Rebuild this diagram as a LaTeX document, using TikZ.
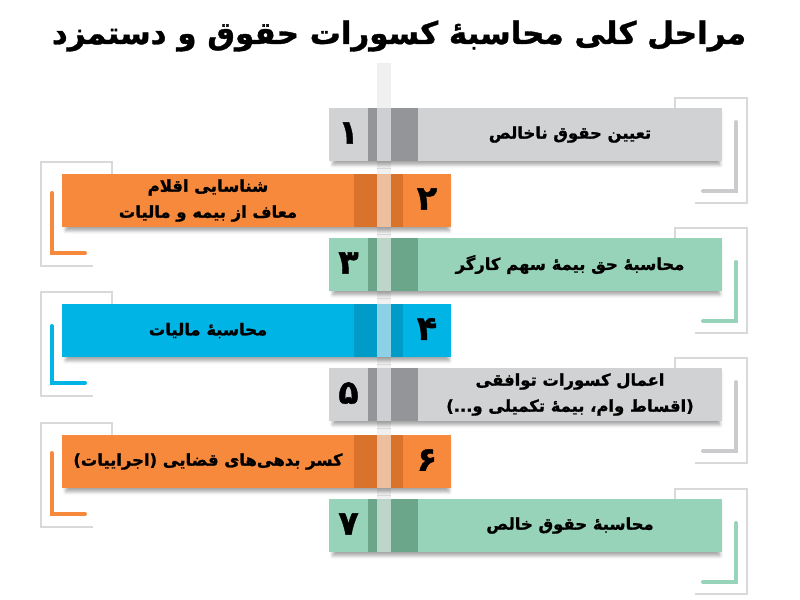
\documentclass[tikz,border=0pt]{standalone}
\usepackage{fontspec}
\usetikzlibrary{shadows.blur}
\TeXXeTstate=1
\newfontfamily\fa[Script=Arabic, BoldFeatures={FakeBold=1.2}]{DejaVu Sans}
\definecolor{cGrey}{HTML}{D1D2D4}
\definecolor{cGreyS}{HTML}{939598}
\definecolor{cGreyB}{HTML}{CBCBCD}
\definecolor{cOr}{HTML}{F6893B}
\definecolor{cOrS}{HTML}{D9732B}
\definecolor{cGr}{HTML}{97D3B9}
\definecolor{cGrS}{HTML}{6BA68B}
\definecolor{cBl}{HTML}{00B4E6}
\definecolor{cBlS}{HTML}{009BC6}
\definecolor{cBar}{HTML}{F0F0F0}
\definecolor{cOut}{HTML}{D9D9D9}
\tikzset{
  outerbr/.style={draw=cOut, line width=1.5pt},
  innerbr/.style={line width=3pt, line cap=round},
  boxnode/.style={rectangle, inner sep=0pt, minimum height=39.75pt,
    blur shadow={shadow xshift=0.5pt, shadow yshift=-3pt, shadow blur radius=2.5pt, shadow opacity=35, shadow scale=0.985}},
  numnode/.style={inner sep=0pt, font=\fa\bfseries\fontsize{25}{28}\selectfont},
  txtnode/.style={inner sep=0pt, align=center, font=\fa\bfseries\fontsize{12.3}{19.5}\selectfont},
}
% #1 id, #2 ytop, #3 fill, #4 stripe, #5 bracket colour, #6 bracket start offset, #7 number, #8 text
\newcommand\RightStep[8]{%
  \draw[outerbr] (675,#2+12) -- (675,#2-10) -- (747,#2-10) -- (747,#2+95) -- (695,#2+95);
  \draw[innerbr,draw=#5] (736,#2+#6) -- (736,#2+83) -- (703,#2+83);
  \node[boxnode, fill=#3, minimum width=294.75pt, anchor=north west] (b#1) at (329,#2) {};
  \fill[#4] (368,#2) rectangle (418,#2+53);
  \fill[white, opacity=.55] (377,#2) rectangle (391,#2+53);
  \node[numnode] (n#1) at (348.5,#2+25) {\beginR #7\endR};
  \node[txtnode] (t#1) at (570,#2+26.5) {#8};
}
\newcommand\LeftStep[8]{%
  \draw[outerbr] (112,#2+12) -- (112,#2-12.5) -- (41,#2-12.5) -- (41,#2+92) -- (93,#2+92);
  \draw[innerbr,draw=#5] (51.7,#2+#6) -- (51.7,#2+79) -- (85,#2+79);
  \node[boxnode, fill=#3, minimum width=291.75pt, anchor=north west] (b#1) at (62,#2) {};
  \fill[#4] (354,#2) rectangle (403,#2+53);
  \fill[white, opacity=.55] (377,#2) rectangle (391,#2+53);
  \node[numnode] (n#1) at (427,#2+25) {\beginR #7\endR};
  \node[txtnode] (t#1) at (208,#2+26.5) {#8};
}
\begin{document}
\begin{tikzpicture}[x=0.75pt, y=-0.75pt]
\useasboundingbox (0,0) rectangle (800,600);
\node[inner sep=0pt, font=\fa\bfseries\fontsize{23.2}{28}\selectfont] (title) at (399,36)
  {\beginR مراحل کلی محاسبهٔ کسورات حقوق و دستمزد\endR};
\fill[cBar] (377,63) rectangle (391,552);
\RightStep{1}{108}{cGrey}{cGreyS}{cGreyB}{14}{۱}{\beginR تعیین حقوق ناخالص\endR}
\LeftStep{2}{174}{cOr}{cOrS}{cOr}{19}{۲}{\beginR شناسایی اقلام\endR\\\beginR معاف از بیمه و مالیات\endR}
\RightStep{3}{238}{cGr}{cGrS}{cGr}{24}{۳}{\beginR محاسبهٔ حق بیمهٔ سهم کارگر\endR}
\LeftStep{4}{304}{cBl}{cBlS}{cBl}{22}{۴}{\beginR محاسبهٔ مالیات\endR}
\RightStep{5}{368}{cGrey}{cGreyS}{cGreyB}{14}{۵}{\beginR اعمال کسورات توافقی\endR\\\beginR (اقساط وام، بیمهٔ تکمیلی و...)\endR}
\LeftStep{6}{435}{cOr}{cOrS}{cOr}{18}{۶}{\beginR کسر بدهی‌های قضایی (اجراییات)\endR}
\RightStep{7}{499}{cGr}{cGrS}{cGr}{24}{۷}{\beginR محاسبهٔ حقوق خالص\endR}
\end{tikzpicture}
\end{document}
